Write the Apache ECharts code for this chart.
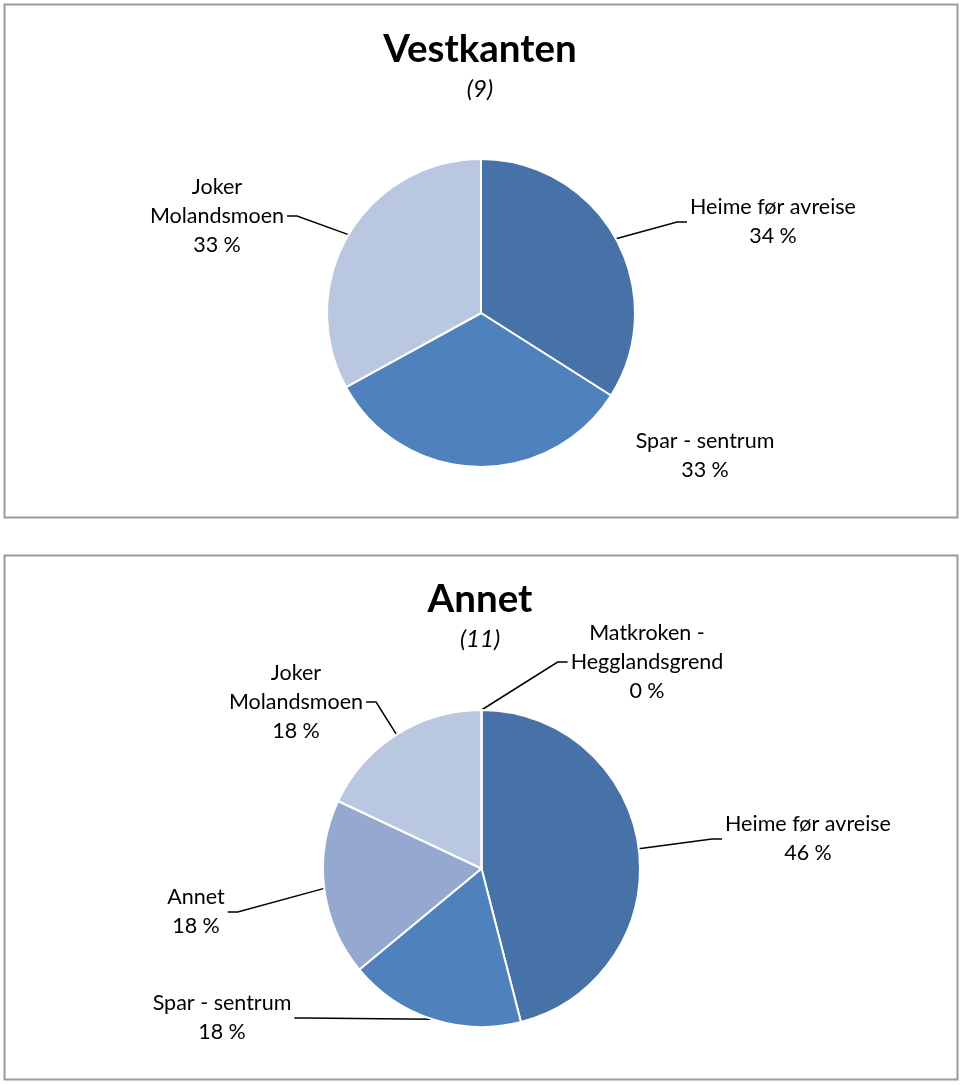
<!DOCTYPE html>
<html><head><meta charset="utf-8">
<script src="https://cdn.jsdelivr.net/npm/echarts@6/dist/echarts.min.js"></script>
<style>html,body{margin:0;padding:0;background:#fff}#c{width:960px;height:1085px}</style>
</head><body><div id="c"></div>
<script>
// ---- data ----
const titleTop = 'Vestkanten';
const subTop = '(9)';
const catsTop = ['Heime før avreise', 'Spar - sentrum', 'Joker\nMolandsmoen'];
const valsTop = [34, 33, 33];
const colorsTop = ['#4672A7', '#4F81BD', '#B9C7E0'];

const titleBot = 'Annet';
const subBot = '(11)';
const catsBot = ['Heime før avreise', 'Spar - sentrum', 'Annet', 'Joker\nMolandsmoen', 'Matkroken -\nHegglandsgrend'];
const valsBot = [46, 18, 18, 18, 0];
const colorsBot = ['#4672A7', '#4F81BD', '#95A9D0', '#B9C7E0', '#C9D3E8'];

// ---- label placement (layout only) ----
const labelPosTop = [[773, 222], [705, 456], [217, 216]];
const labelPosBot = [[808, 839], [222, 1018], [196, 912], [296, 702], [647, 662]];

const FONT = 'Lato, "Liberation Sans", sans-serif';
const chart = echarts.init(document.getElementById('c'), null, {renderer: 'canvas'});

function mkData(cats, vals, colors, hideLine) {
  return cats.map((c, i) => {
    const d = {name: c, value: vals[i], itemStyle: {color: colors[i]}};
    if (hideLine && hideLine.indexOf(i) >= 0) d.labelLine = {show: false};
    return d;
  });
}

function pie(center, r, data, pos) {
  return {
    type: 'pie',
    center: center,
    radius: r,
    startAngle: 90,
    clockwise: true,
    avoidLabelOverlap: false,
    silent: true,
    data: data,
    itemStyle: {borderColor: '#ffffff', borderWidth: 2},
    label: {
      show: true,
      formatter: '{b}\n{c} %',
      fontFamily: FONT,
      fontSize: 21.5,
      lineHeight: 29,
      color: '#000',
      align: 'center',
      padding: [0, 3]
    },
    labelLine: {show: true, length: 10, length2: 10, lineStyle: {color: '#000', width: 1.5}},
    labelLayout: function (p) {
      const xy = pos[p.dataIndex];
      return {x: xy[0], y: xy[1], align: 'center', verticalAlign: 'middle'};
    }
  };
}

const titleStyle = {fontFamily: FONT, fontSize: 38.5, fontWeight: 'bold', color: '#000', lineHeight: 46};
const subStyle = {fontFamily: FONT, fontSize: 24, fontStyle: 'italic', color: '#000', lineHeight: 26};

chart.setOption({
  animation: false,
  backgroundColor: '#fff',
  graphic: [
    {type: 'rect', shape: {x: 4.5, y: 4.5, width: 953, height: 513}, style: {fill: 'none', stroke: '#9a9a9a', lineWidth: 2}},
    {type: 'rect', shape: {x: 4.5, y: 555.5, width: 953, height: 524}, style: {fill: 'none', stroke: '#9a9a9a', lineWidth: 2}}
  ],
  title: [
    {text: titleTop, subtext: subTop, left: 'center', top: 22, itemGap: 3, textStyle: titleStyle, subtextStyle: subStyle},
    {text: titleBot, subtext: subBot, left: 'center', top: 572, itemGap: 3, textStyle: titleStyle, subtextStyle: subStyle}
  ],
  series: [
    pie([481, 313], 154, mkData(catsTop, valsTop, colorsTop, [1]), labelPosTop),
    pie([481.5, 868.5], 158.5, mkData(catsBot, valsBot, colorsBot), labelPosBot)
  ]
});
</script>
</body></html>
